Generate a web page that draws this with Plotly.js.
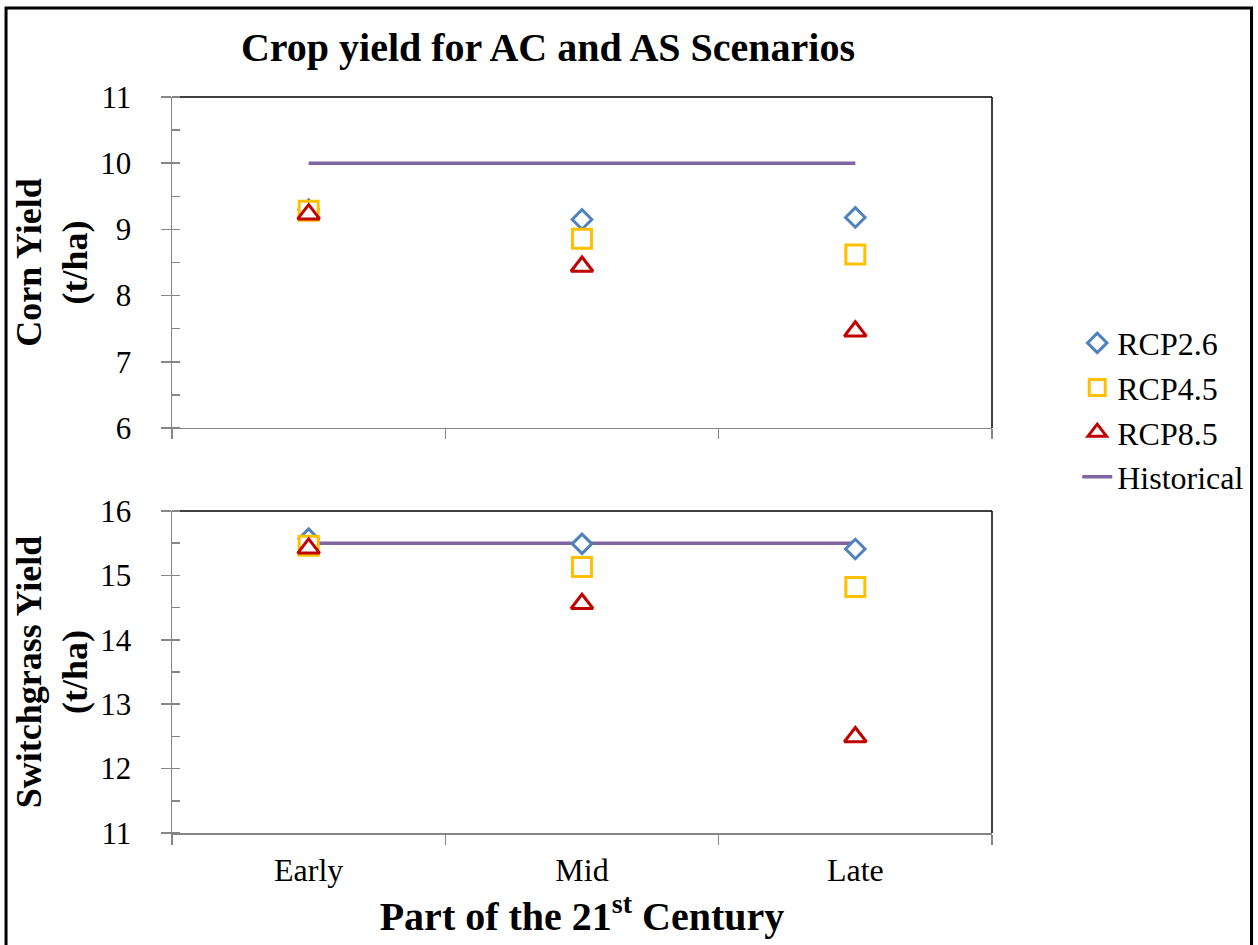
<!DOCTYPE html>
<html>
<head>
<meta charset="utf-8">
<script src="https://cdn.plot.ly/plotly-3.0.1.min.js"></script>
<style>html,body{margin:0;padding:0;background:#fff;}#chart{width:1258px;height:945px;}</style>
</head>
<body>
<div id="chart"></div>
<script>
// ---- data ----
const periods = ["Early", "Mid", "Late"];
const cornRCP26 = [9.30, 9.15, 9.18];
const cornRCP45 = [9.28, 8.86, 8.62];
const cornRCP85 = [9.23, 8.44, 7.46];
const cornHistorical = [10, 10, 10];
const switchRCP26 = [15.57, 15.49, 15.41];
const switchRCP45 = [15.46, 15.13, 14.82];
const switchRCP85 = [15.42, 14.56, 12.49];
const switchHistorical = [15.5, 15.5, 15.5];
const seriesNames = ["RCP2.6", "RCP4.5", "RCP8.5", "Historical"];
const cornTicks = [6, 7, 8, 9, 10, 11];
const switchTicks = [11, 12, 13, 14, 15, 16];

// ---- styles ----
const FONT = "Liberation Serif";
const AXC = "#868686";
const styles = [
  {symbol: "diamond", color: "#4F81BD", size: 15},
  {symbol: "square", color: "#FFC000", size: 19},
  {symbol: "triangle-up", color: "#C00000", size: 19}
];
const histColor = "#8064A2";

function markerTrace(y, i, xa, ya, show) {
  return {
    x: periods, y: y, xaxis: xa, yaxis: ya, type: "scatter", mode: "markers",
    name: seriesNames[i], legendgroup: seriesNames[i], showlegend: show,
    marker: {symbol: styles[i].symbol, size: styles[i].size, color: "#ffffff",
             line: {color: styles[i].color, width: 3}}
  };
}
function histTrace(y, xa, ya, show) {
  return {
    x: periods, y: y, xaxis: xa, yaxis: ya, type: "scatter", mode: "lines",
    name: seriesNames[3], legendgroup: seriesNames[3], showlegend: show,
    line: {color: histColor, width: 3.5}
  };
}

const data = [
  histTrace(switchHistorical, "x2", "y2", false),
  markerTrace(cornRCP26, 0, "x", "y", true),
  markerTrace(cornRCP45, 1, "x", "y", true),
  markerTrace(cornRCP85, 2, "x", "y", true),
  markerTrace(switchRCP26, 0, "x2", "y2", false),
  markerTrace(switchRCP45, 1, "x2", "y2", false),
  markerTrace(switchRCP85, 2, "x2", "y2", false),
  histTrace(cornHistorical, "x", "y", true)
];

function xAxis(showLabels, anchor) {
  return {
    type: "category", categoryorder: "array", categoryarray: periods,
    range: [-0.5, 2.5], anchor: anchor, domain: [0, 1],
    showline: true, linecolor: AXC, linewidth: 1.5,
    ticks: "outside", ticklen: 10, tickcolor: AXC, tickwidth: 1.5, tickson: "boundaries",
    showticklabels: showLabels, showgrid: false, zeroline: false,
    tickfont: {family: FONT, size: 32, color: "#000"}, ticklabelstandoff: 8
  };
}
function yAxis(range, ticks, dom, anchor, title) {
  return {
    range: range, tickvals: ticks, domain: dom, anchor: anchor,
    showline: true, linecolor: AXC, linewidth: 1.5,
    ticks: "outside", ticklen: 10, tickcolor: AXC, tickwidth: 1.5,
    minor: {dtick: 0.5, ticks: "inside", ticklen: 8, tickcolor: AXC, tickwidth: 1.5},
    showgrid: false, zeroline: false,
    tickfont: {family: FONT, size: 31, color: "#000"}, ticklabelstandoff: 23,
    title: {text: title, font: {family: FONT, size: 36, color: "#000"}, standoff: 1}
  };
}
// inner halves of the major y ticks (the reference ticks cross the axis line)
function innerTicks(range, ticks, dom, over) {
  return {
    range: range, tickvals: ticks, domain: dom, overlaying: over, anchor: over === "y" ? "x" : "x2",
    showline: false, showgrid: false, zeroline: false, showticklabels: false,
    ticks: "inside", ticklen: 8, tickcolor: AXC, tickwidth: 1.5
  };
}

const layout = {
  width: 1258, height: 945,
  paper_bgcolor: "#fff", plot_bgcolor: "#fff",
  margin: {l: 172, r: 266, t: 97, b: 112},
  font: {family: FONT, color: "#000"},
  title: {text: "<b>Crop yield for AC and AS Scenarios</b>", x: 0.4356, xanchor: "center", y: 0.95, yanchor: "middle",
          font: {family: FONT, size: 40, color: "#000"}},
  xaxis: xAxis(false, "y"),
  yaxis: yAxis([6, 11], cornTicks, [0.5503, 1], "x", "<b>Corn Yield<br>(t/ha)</b>"),
  xaxis2: Object.assign(xAxis(true, "y2"), {title: {text: "<b>Part of the 21<sup>st</sup> Century</b>", font: {family: FONT, size: 40, color: "#000"}, standoff: 6}}),
  yaxis2: yAxis([11, 16], switchTicks, [0, 0.4375], "x2", "<b>Switchgrass Yield<br>(t/ha)</b>"),
  yaxis3: innerTicks([6, 11], cornTicks, [0.5503, 1], "y"),
  yaxis4: innerTicks([11, 16], switchTicks, [0, 0.4375], "y2"),
  showlegend: true,
  legend: {xref: "container", yref: "container", x: 0.8563, xanchor: "left", y: 0.666, yanchor: "top", bgcolor: "rgba(0,0,0,0)",
           font: {family: FONT, size: 32, color: "#000"}, tracegroupgap: 0, itemwidth: 30},
  shapes: [
    {type: "line", xref: "x domain", yref: "y domain", x0: 0, x1: 1, y0: 1, y1: 1, line: {color: "#000", width: 1.5}, layer: "below"},
    {type: "line", xref: "x domain", yref: "y domain", x0: 1, x1: 1, y0: 0, y1: 1, line: {color: "#000", width: 1.5}, layer: "below"},
    {type: "line", xref: "x2 domain", yref: "y2 domain", x0: 0, x1: 1, y0: 1, y1: 1, line: {color: "#000", width: 1.5}, layer: "below"},
    {type: "line", xref: "x2 domain", yref: "y2 domain", x0: 1, x1: 1, y0: 0, y1: 1, line: {color: "#000", width: 1.5}, layer: "below"},
    {type: "rect", xref: "paper", yref: "paper", x0: -0.2024, x1: 1.3165, y0: -0.16, y1: 1.1209, line: {color: "#000", width: 3}, fillcolor: "rgba(0,0,0,0)"}
  ]
};

Plotly.newPlot("chart", data, layout, {displayModeBar: false, staticPlot: true});
</script>
</body>
</html>
